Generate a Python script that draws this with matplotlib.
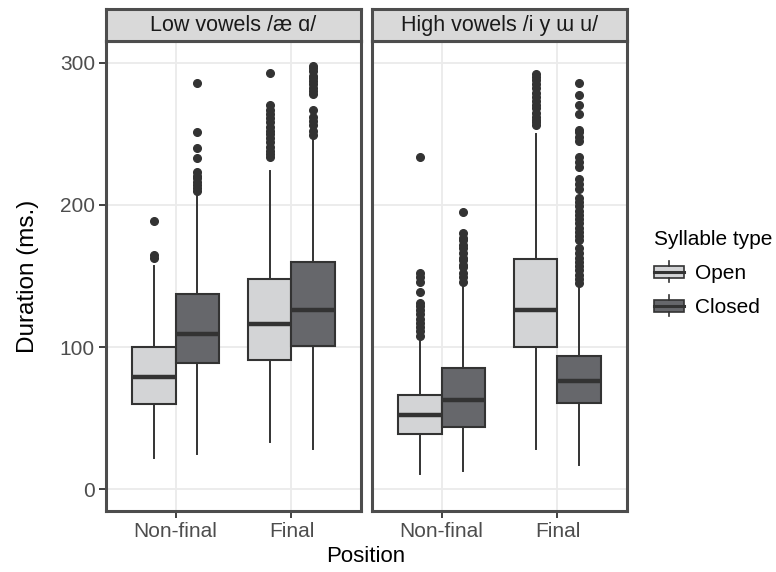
import numpy as np
import matplotlib
matplotlib.use("Agg")
import matplotlib.pyplot as plt
from matplotlib.patches import Rectangle, Patch
from matplotlib.lines import Line2D
from matplotlib.legend_handler import HandlerBase

plt.rcParams['font.family'] = ['Liberation Sans', 'DejaVu Sans']

# === Data ===
facets = ["Low vowels /æ ɑ/", "High vowels /i y ɯ u/"]
positions = ["Non-final", "Final"]
syll_types = ["Open", "Closed"]

# box stats per facet -> [Non-final Open, Non-final Closed, Final Open, Final Closed]
q1 = [[60, 89, 91, 101], [39, 44, 100, 61]]
med = [[79, 109, 116, 126], [52, 63, 126, 76]]
q3 = [[100, 137, 148, 160], [66, 85, 162, 94]]
whislo = [[22, 25, 33, 28], [11, 13, 28, 17]]
whishi = [[157, 208, 224, 246], [105, 143, 250, 143]]

outliers_low = [
    [163, 165, 189],
    [210, 212, 214, 216, 219, 220, 223, 233, 240, 251, 286],
    [234, 236, 238, 241, 244, 247, 250, 252, 255, 258, 261, 264, 267, 270, 293],
    [249, 252, 256, 259, 262, 267, 278, 280, 282, 285, 287, 289, 291, 294, 296, 298],
]
outliers_high = [
    [108, 111, 114, 117, 120, 123, 126, 129, 131, 139, 146, 149, 152, 234],
    [146, 149, 152, 156, 158, 161, 163, 166, 170, 172, 175, 177, 180, 195],
    [256, 258, 260, 262, 265, 268, 270, 273, 276, 279, 282, 285, 288, 290, 292],
    [145, 148, 151, 154, 157, 160, 163, 166, 170, 175, 178, 181, 184, 187, 190,
     193, 196, 199, 202, 205, 211, 215, 218, 227, 230, 234, 245, 248, 251, 253,
     264, 270, 277, 286],
]
outliers = [outliers_low, outliers_high]

fill_colors = {"Open": "#D3D4D6", "Closed": "#66676B"}
dark = "#333333"

W, H = 776, 572
fig = plt.figure(figsize=(W / 100, H / 100), dpi=100)


def fx(px):
    return px / W


def fy(py):
    return 1 - py / H


panel_left = [106, 372]
panel_w = 255
panel_top, panel_bot = 41, 511
strip_top = 9

for f in range(2):
    ax = fig.add_axes([fx(panel_left[f]), fy(panel_bot), fx(panel_w),
                       (panel_bot - panel_top) / H])
    stats, pos, cols = [], [], []
    k = 0
    for i, p in enumerate(positions):
        for j, s in enumerate(syll_types):
            stats.append(dict(q1=q1[f][k], med=med[f][k], q3=q3[f][k],
                              whislo=whislo[f][k], whishi=whishi[f][k],
                              fliers=outliers[f][k]))
            pos.append(i + 1 + (j - 0.5) * 0.375)
            cols.append(fill_colors[s])
            k += 1
    bp = ax.bxp(stats, positions=pos, widths=0.375, patch_artist=True,
                showcaps=False,
                boxprops=dict(edgecolor=dark, linewidth=1.5),
                whiskerprops=dict(color=dark, linewidth=1.4),
                medianprops=dict(color=dark, linewidth=3.2),
                flierprops=dict(marker='o', markerfacecolor=dark,
                                markeredgecolor=dark, markersize=5.5))
    for patch, c in zip(bp['boxes'], cols):
        patch.set_facecolor(c)

    ax.set_xlim(0.4, 2.6)
    ax.set_ylim(-15.3, 315.3)
    ax.set_xticks([1, 2])
    ax.set_xticklabels(positions)
    ax.set_yticks([0, 100, 200, 300])
    ax.grid(True, color="#EBEBEB", linewidth=1.3)
    ax.set_axisbelow(True)
    for sp in ax.spines.values():
        sp.set_color("#4D4D4D")
        sp.set_linewidth(2.2)
    ax.tick_params(colors=dark, labelcolor="#4D4D4D", labelsize=15,
                   length=5, width=1.3, pad=3)
    if f == 1:
        ax.set_yticklabels([])
        ax.tick_params(axis='y', length=0)

    # facet strip
    sax = fig.add_axes([fx(panel_left[f]), fy(panel_top), fx(panel_w),
                        (panel_top - strip_top) / H])
    sax.set_facecolor("#D9D9D9")
    sax.set_xticks([])
    sax.set_yticks([])
    for sp in sax.spines.values():
        sp.set_color("#4D4D4D")
        sp.set_linewidth(2.2)
    sax.text(0.5, 0.47, facets[f], ha='center', va='center', fontsize=15.5,
             color="#1A1A1A", transform=sax.transAxes)

fig.text(fx(28), fy(276), "Duration (ms.)", rotation=90, ha='center',
         va='center', fontsize=17.5, color='black')
fig.text(fx(366), fy(557), "Position", ha='center', va='center',
         fontsize=16, color='black')


class BoxHandler(HandlerBase):
    def create_artists(self, legend, orig_handle, xdescent, ydescent,
                       width, height, fontsize, trans):
        fc = orig_handle.get_facecolor()
        x0, y0 = -xdescent, -ydescent
        bh = height * 0.62
        by = y0 + (height - bh) / 2
        stub = height * 0.25
        cx = x0 + width / 2
        rect = Rectangle((x0, by), width, bh, facecolor=fc, edgecolor=dark,
                         linewidth=1.2, transform=trans)
        m = Line2D([x0, x0 + width], [y0 + height / 2] * 2, color=dark,
                   linewidth=2.2, transform=trans)
        w1 = Line2D([cx, cx], [by + bh, by + bh + stub], color=dark,
                    linewidth=1.2, transform=trans)
        w2 = Line2D([cx, cx], [by - stub, by], color=dark, linewidth=1.2,
                    transform=trans)
        return [rect, m, w1, w2]


handles = [Patch(facecolor=fill_colors[s]) for s in syll_types]
leg = fig.legend(handles, syll_types, title="Syllable type",
                 loc='upper left', bbox_to_anchor=(fx(654), fy(230)),
                 frameon=False, fontsize=15, title_fontsize=15,
                 handler_map={Patch: BoxHandler()},
                 handlelength=1.45, handleheight=1.0, handletextpad=0.5,
                 labelspacing=0.65, borderpad=0.0, borderaxespad=0.0)
leg._legend_box.align = "left"

fig.savefig("out.png", dpi=100)
